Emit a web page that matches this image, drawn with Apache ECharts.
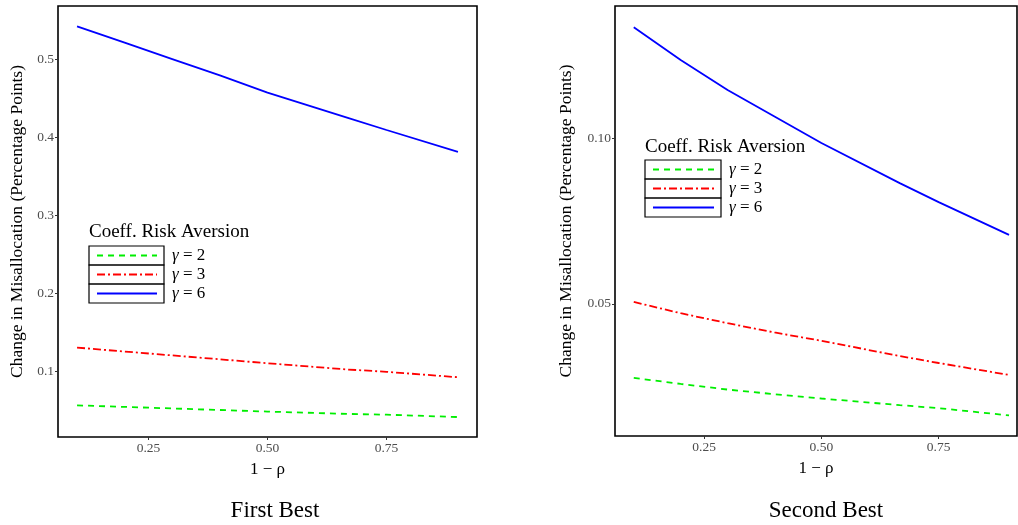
<!DOCTYPE html>
<html>
<head>
<meta charset="utf-8">
<script src="https://cdn.jsdelivr.net/npm/echarts@6/dist/echarts.min.js"></script>
<style>
  html, body { margin: 0; padding: 0; background: #fff; }
  #main { width: 1018px; height: 525px; }
</style>
</head>
<body>
<div id="main"></div>
<script>
// x values (1 - rho)
const rhoX = [0.1, 0.2, 0.3, 0.4, 0.5, 0.667, 0.75, 0.9]

// First Best panel
const firstG2 = [0.056, 0.054, 0.052, 0.050, 0.048, 0.045, 0.044, 0.041]
const firstG3 = [0.130, 0.125, 0.120, 0.115, 0.110, 0.102, 0.099, 0.092]
const firstG6 = [0.542, 0.521, 0.500, 0.479, 0.457, 0.425, 0.409, 0.381]

// Second Best panel
const secondG2 = [0.0277, 0.0259, 0.0242, 0.0228, 0.0215, 0.0195, 0.0186, 0.0164]
const secondG3 = [0.0506, 0.0472, 0.0442, 0.0414, 0.0389, 0.0343, 0.0322, 0.0286]
const secondG6 = [0.1334, 0.1235, 0.1145, 0.1065, 0.0985, 0.0864, 0.0807, 0.0708]

// tick labels
const xTicks = [0.25, 0.5, 0.75]
const firstYTicks = [0.1, 0.2, 0.3, 0.4, 0.5]
const secondYTicks = [0.05, 0.10]

// legend
const legendTitle = 'Coeff. Risk Aversion'
const legendGammas = ['2', '3', '6']
const panelTitles = ['First Best', 'Second Best']

const serif = '"Liberation Serif", "DejaVu Serif", serif'
const green = '#00ee00'
const red = '#ff0000'
const blue = '#0000ff'
const dashG = [6, 5]
const dashR = [8, 3, 2, 3]

const pairs = (xs, ys) => xs.map((x, i) => [x, ys[i]])

const makeX = (gridIndex, min, max) => ({
  type: 'value',
  gridIndex: gridIndex,
  min: min,
  max: max,
  name: '1 − ρ',
  nameLocation: 'middle',
  nameGap: 24,
  nameTextStyle: { fontFamily: serif, fontSize: 17, color: '#000' },
  axisLine: { show: false },
  splitLine: { show: false },
  axisTick: { show: true, customValues: xTicks, length: 3, lineStyle: { color: '#333' } },
  axisLabel: {
    customValues: xTicks,
    fontFamily: serif, fontSize: 13.5, color: '#4d4d4d', margin: 4,
    formatter: v => v.toFixed(2)
  }
})

const makeY = (gridIndex, min, max, ticks, digits, gap) => ({
  type: 'value',
  gridIndex: gridIndex,
  min: min,
  max: max,
  name: 'Change in Misallocation (Percentage Points)',
  nameLocation: 'middle',
  nameGap: gap,
  nameTextStyle: { fontFamily: serif, fontSize: 17.5, color: '#000' },
  axisLine: { show: false },
  splitLine: { show: false },
  axisTick: { show: true, customValues: ticks, length: 3, lineStyle: { color: '#333' } },
  axisLabel: {
    customValues: ticks,
    fontFamily: serif, fontSize: 13.5, color: '#4d4d4d', margin: 4,
    formatter: v => v.toFixed(digits)
  }
})

const makeLine = (idx, data, color, type) => ({
  type: 'line',
  xAxisIndex: idx,
  yAxisIndex: idx,
  data: data,
  showSymbol: false,
  symbol: 'none',
  lineStyle: { color: color, width: 1.8, type: type },
  silent: true
})

// legend drawn as graphic pieces (ggplot-style boxed keys)
const makeLegend = (left, titleY, boxTop, rowH, boxW) => {
  const els = []
  els.push({
    type: 'text', x: left, y: titleY,
    style: { text: legendTitle, font: '19px ' + serif, fill: '#000', textVerticalAlign: 'middle' }
  })
  const styles = [[green, dashG], [red, dashR], [blue, null]]
  legendGammas.forEach((g, i) => {
    const top = boxTop + i * rowH
    els.push({
      type: 'rect', shape: { x: left, y: top, width: boxW, height: rowH },
      style: { fill: 'none', stroke: '#000', lineWidth: 1.2 }
    })
    els.push({
      type: 'line', shape: { x1: left + 8, y1: top + rowH / 2, x2: left + boxW - 7, y2: top + rowH / 2 },
      style: { stroke: styles[i][0], lineWidth: 1.8, lineDash: styles[i][1] }
    })
    els.push({
      type: 'text', x: left + boxW + 8, y: top + rowH / 2,
      style: {
        text: '{g|γ} = ' + g,
        textVerticalAlign: 'middle',
        rich: {
          g: { fontFamily: serif, fontStyle: 'italic', fontSize: 17, fill: '#000' }
        },
        font: '17px ' + serif, fill: '#000'
      }
    })
  })
  return els
}

const myChart = echarts.init(document.getElementById('main'))

const options = {
  animation: false,
  backgroundColor: '#fff',
  grid: [
    { left: 58, top: 6, width: 419, height: 431, show: true, borderColor: '#000', borderWidth: 1.6, containLabel: false },
    { left: 615, top: 6, width: 402, height: 430, show: true, borderColor: '#000', borderWidth: 1.6, containLabel: false }
  ],
  xAxis: [makeX(0, 0.06, 0.94), makeX(1, 0.06, 0.917)],
  yAxis: [
    makeY(0, 0.0154, 0.568, firstYTicks, 1, 32),
    makeY(1, 0.0102, 0.1398, secondYTicks, 2, 40)
  ],
  series: [
    makeLine(0, pairs(rhoX, firstG2), green, dashG),
    makeLine(0, pairs(rhoX, firstG3), red, dashR),
    makeLine(0, pairs(rhoX, firstG6), blue, 'solid'),
    makeLine(1, pairs(rhoX, secondG2), green, dashG),
    makeLine(1, pairs(rhoX, secondG3), red, dashR),
    makeLine(1, pairs(rhoX, secondG6), blue, 'solid')
  ],
  graphic: [
    ...makeLegend(89, 232, 246, 19, 75),
    ...makeLegend(645, 147, 160, 19, 76),
    {
      type: 'text', x: 275, y: 511,
      style: { text: panelTitles[0], font: '23px ' + serif, fill: '#000', textAlign: 'center', textVerticalAlign: 'middle' }
    },
    {
      type: 'text', x: 826, y: 511,
      style: { text: panelTitles[1], font: '23px ' + serif, fill: '#000', textAlign: 'center', textVerticalAlign: 'middle' }
    }
  ]
}

myChart.setOption(options)
</script>
</body>
</html>
